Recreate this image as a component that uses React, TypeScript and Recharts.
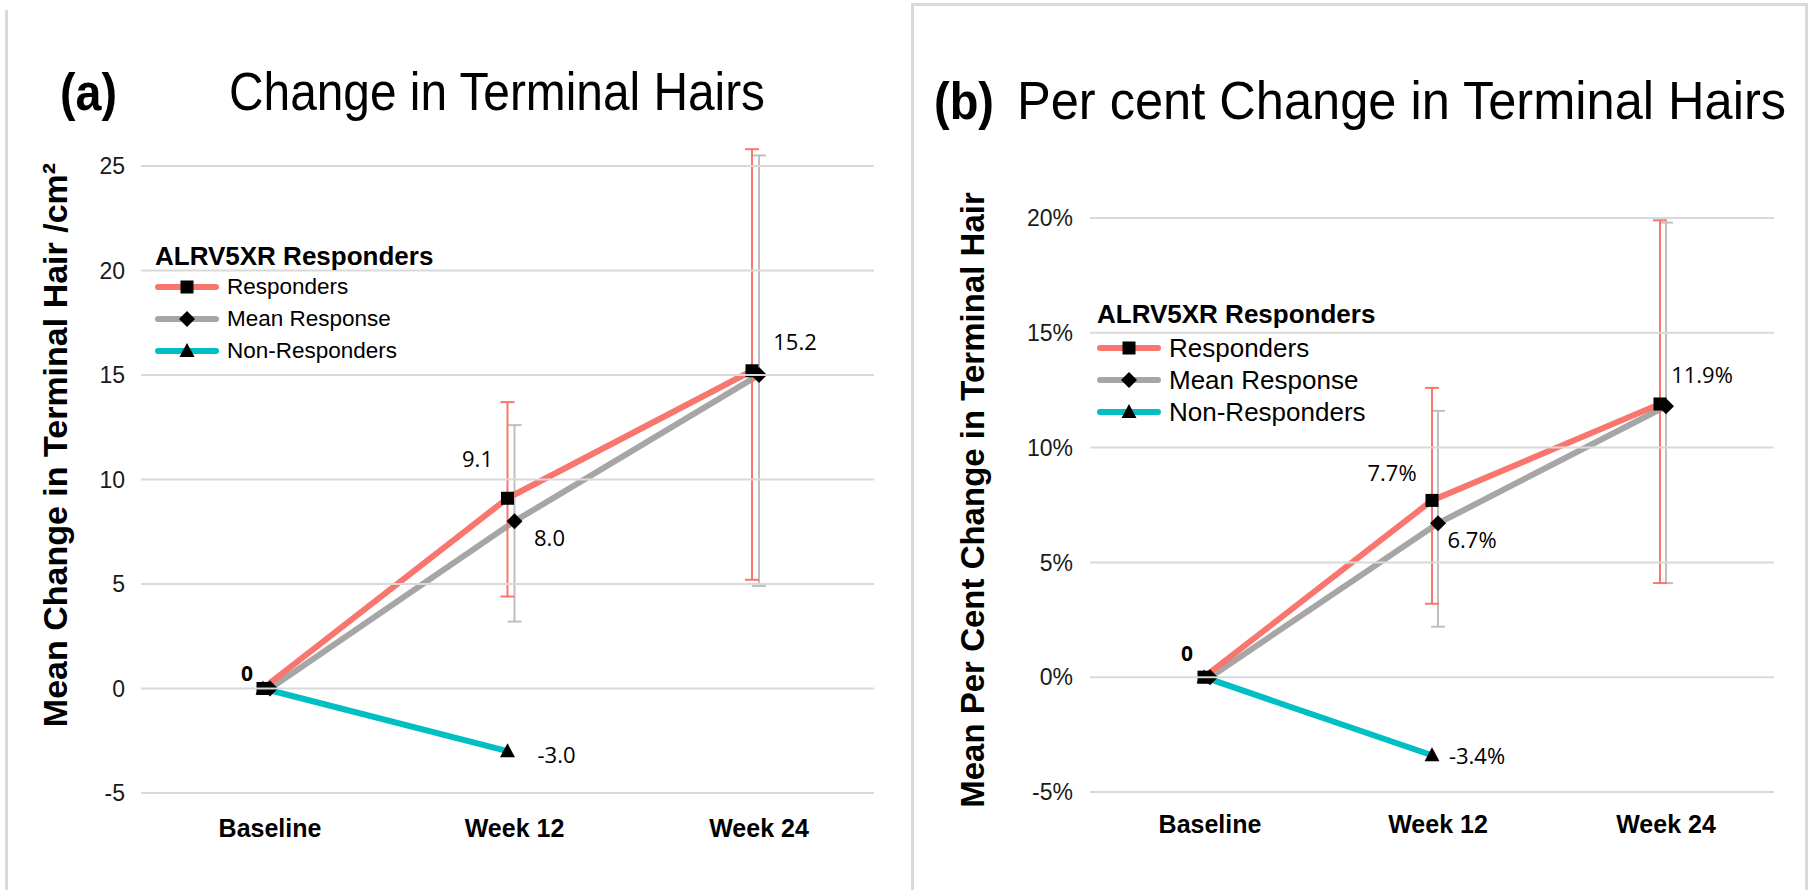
import React from 'react'
import { LineChart, Line, XAxis, YAxis, ErrorBar, LabelList, Legend } from 'recharts'

const categories = ['Baseline', 'Week 12', 'Week 24']

// (a) change in terminal hairs /cm²
const respondersA = [0, 9.1, 15.2]
const meanA = [0, 8.0, 15.0]
const nonRespondersA = [0, -3.0, null]
const respondersErrA = [null, [4.7, 4.6], [10.0, 10.6]]
const meanErrA = [null, [4.8, 4.6], [10.1, 10.5]]
const ticksA = [-5, 0, 5, 10, 15, 20, 25]

// (b) per cent change in terminal hairs
const respondersB = [0, 7.7, 11.9]
const meanB = [0, 6.7, 11.8]
const nonRespondersB = [0, -3.4, null]
const respondersErrB = [null, [4.5, 4.9], [7.8, 8.0]]
const meanErrB = [null, [4.5, 4.9], [7.7, 8.0]]
const ticksB = [-5, 0, 5, 10, 15, 20]

const RED = '#F8766D'
const GRAY = '#A6A6A6'
const TEAL = '#00BFC4'
const GRID = '#D9D9D9'
const FONT = "'Liberation Sans', Arial, sans-serif"
const LABEL_FONT = "'Open Sans', 'Noto Sans', sans-serif"

const buildData = (resp: number[], mean: number[], non: (number | null)[], respErr: any[], meanErr: any[]) =>
    categories.map((category, i) => ({
        category,
        responders: resp[i],
        mean: mean[i],
        non: non[i],
        respErr: respErr[i],
        meanErr: meanErr[i],
    }))

const dataA = buildData(respondersA, meanA, nonRespondersA, respondersErrA, meanErrA)
const dataB = buildData(respondersB, meanB, nonRespondersB, respondersErrB, meanErrB)

type Shape = 'square' | 'diamond' | 'triangle'

function Marker({ shape, cx, cy }: { shape: Shape; cx: number; cy: number }) {
    if (shape === 'square') return <rect x={cx - 6.5} y={cy - 6.5} width={13} height={13} fill="#000" />
    if (shape === 'diamond') return <polygon points={`${cx},${cy - 8} ${cx + 8},${cy} ${cx},${cy + 8} ${cx - 8},${cy}`} fill="#000" />
    return <polygon points={`${cx},${cy - 8} ${cx + 7.5},${cy + 6} ${cx - 7.5},${cy + 6}`} fill="#000" />
}

const makeDot = (shape: Shape) => (props: any) => {
    const { cx, cy, index, value } = props
    if (value == null || cx == null || cy == null || Number.isNaN(cy)) return <g key={`dot-${shape}-${index}`} />
    return <g key={`dot-${shape}-${index}`}><Marker shape={shape} cx={cx} cy={cy} /></g>
}

type LabelOffset = { dx: number; dy: number; bold?: boolean } | null

const makeLabel = (offsets: LabelOffset[], fmt: (v: number) => string) => (props: any) => {
    const { x, y, value, index } = props
    const off = offsets[index]
    if (!off || value == null) return null
    return (
        <text
            x={x + off.dx}
            y={y + off.dy}
            textAnchor="middle"
            dominantBaseline="central"
            fontFamily={LABEL_FONT}
            fontSize={off.bold ? 21 : 22}
            fontWeight={off.bold ? 'bold' : 'normal'}
            fill="#000"
        >
            {fmt(value)}
        </text>
    )
}

const fmtA = (v: number) => (v === 0 ? '0' : v.toFixed(1))
const fmtB = (v: number) => (v === 0 ? '0' : `${v.toFixed(1)}%`)

const legendItems: { name: string; color: string; shape: Shape }[] = [
    { name: 'Responders', color: RED, shape: 'square' },
    { name: 'Mean Response', color: GRAY, shape: 'diamond' },
    { name: 'Non-Responders', color: TEAL, shape: 'triangle' },
]

function LegendBox({ itemSize, gap }: { itemSize: number; gap: number }) {
    return (
        <div style={{ fontFamily: FONT, color: '#000', textAlign: 'left' }}>
            <div style={{ fontWeight: 'bold', fontSize: 26, lineHeight: '30px', whiteSpace: 'nowrap' }}>ALRV5XR Responders</div>
            <div style={{ height: gap }} />
            {legendItems.map(item => (
                <div key={item.name} style={{ display: 'flex', alignItems: 'center', height: 32 }}>
                    <svg width={64} height={20} style={{ display: 'block' }}>
                        <line x1={3} x2={61} y1={10} y2={10} stroke={item.color} strokeWidth={6} strokeLinecap="round" />
                        <Marker shape={item.shape} cx={32} cy={10} />
                    </svg>
                    <span style={{ fontSize: itemSize, marginLeft: 8, whiteSpace: 'nowrap' }}>{item.name}</span>
                </div>
            ))}
        </div>
    )
}

const makeXTick = (dy: number) => (props: any) => {
    const { x, y, payload } = props
    return (
        <text x={x} y={y + dy} textAnchor="middle" fontFamily={FONT} fontSize={25} fontWeight="bold" fill="#000">
            {payload.value}
        </text>
    )
}

// y tick: the label plus its grid row across the plot area (rows only at tick values)
const makeYTick = (plotLeft: number, plotRight: number, fmt: (v: number) => string) => (props: any) => {
    const { x, y, payload } = props
    return (
        <g>
            <line x1={plotLeft} x2={plotRight} y1={y} y2={y} stroke={GRID} strokeWidth={2} />
            <text x={x} y={y} dy="0.355em" textAnchor="end" fontFamily={FONT} fontSize={23} fill="#1a1a1a">
                {fmt(payload.value)}
            </text>
        </g>
    )
}

interface PanelProps {
    data: any[]
    width: number
    height: number
    margin: { top: number; right: number; bottom: number; left: number }
    yWidth: number
    domain: [number, number]
    ticks: number[]
    tickFmt: (v: number) => string
    tickMargin: number
    xTickDy: number
    edgePad: number
    shift: number
    legendPos: { left: number; top: number }
    legendItemSize: number
    legendGap: number
    respLabels: LabelOffset[]
    meanLabels: LabelOffset[]
    nonLabels: LabelOffset[]
    fmt: (v: number) => string
}

function Panel(p: PanelProps) {
    const plotLeft = p.margin.left + p.yWidth
    const plotRight = p.width - p.margin.right
    return (
        <LineChart width={p.width} height={p.height} data={p.data} margin={p.margin}>
            <YAxis
                domain={p.domain}
                ticks={p.ticks}
                width={p.yWidth}
                axisLine={false}
                tickLine={false}
                tickMargin={p.tickMargin}
                tick={makeYTick(plotLeft, plotRight, p.tickFmt)}
                interval={0}
            />
            <XAxis xAxisId="main" dataKey="category" hide padding={{ left: p.edgePad, right: p.edgePad }} />
            <XAxis
                xAxisId="shift"
                dataKey="category"
                padding={{ left: p.edgePad + p.shift, right: p.edgePad - p.shift }}
                axisLine={false}
                tickLine={false}
                tickMargin={0}
                height={60}
                tick={makeXTick(p.xTickDy)}
                interval={0}
            />
            <Legend
                layout="horizontal"
                verticalAlign="middle"
                align="center"
                content={() => <LegendBox itemSize={p.legendItemSize} gap={p.legendGap} />}
                wrapperStyle={{ left: p.legendPos.left, top: p.legendPos.top, width: 320, height: 130 }}
            />
            <Line
                xAxisId="shift"
                dataKey="mean"
                name="Mean Response"
                stroke={GRAY}
                strokeWidth={6}
                dot={makeDot('diamond')}
                activeDot={false}
                isAnimationActive={false}
            >
                <ErrorBar dataKey="meanErr" width={7} stroke="#BFBFBF" strokeWidth={2} direction="y" isAnimationActive={false} />
                <LabelList dataKey="mean" content={makeLabel(p.meanLabels, p.fmt)} />
            </Line>
            <Line
                xAxisId="main"
                dataKey="non"
                name="Non-Responders"
                stroke={TEAL}
                strokeWidth={6}
                dot={makeDot('triangle')}
                activeDot={false}
                isAnimationActive={false}
            >
                <LabelList dataKey="non" content={makeLabel(p.nonLabels, p.fmt)} />
            </Line>
            <Line
                xAxisId="main"
                dataKey="responders"
                name="Responders"
                stroke={RED}
                strokeWidth={6}
                dot={makeDot('square')}
                activeDot={false}
                isAnimationActive={false}
            >
                <ErrorBar dataKey="respErr" width={7} stroke={RED} strokeWidth={2} direction="y" isAnimationActive={false} />
                <LabelList dataKey="responders" content={makeLabel(p.respLabels, p.fmt)} />
            </Line>
        </LineChart>
    )
}

export default function App() {
    return (
        <div style={{ position: 'fixed', left: 0, top: 0, width: 1813, height: 890, background: '#fff', overflow: 'hidden' }}>
            {/* panel frames */}
            <div style={{ position: 'absolute', left: 5, top: 10, width: 3, height: 890, background: GRID }} />
            <div style={{ position: 'absolute', left: 911, top: 3, width: 897, height: 900, border: `3px solid ${GRID}`, boxSizing: 'border-box' }} />

            <div style={{ position: 'absolute', left: 0, top: 0 }}>
                <Panel
                    data={dataA}
                    width={900}
                    height={890}
                    margin={{ top: 145, right: 26, bottom: 37, left: 0 }}
                    yWidth={141}
                    domain={[-5, 26]}
                    ticks={ticksA}
                    tickFmt={(v) => `${v}`}
                    tickMargin={10}
                    xTickDy={8}
                    edgePad={122}
                    shift={7}
                    legendPos={{ left: 155, top: 241 }}
                    legendItemSize={22.5}
                    legendGap={-2}
                    respLabels={[{ dx: -16, dy: -15, bold: true }, { dx: -30, dy: -40 }, { dx: 43, dy: -30 }]}
                    meanLabels={[null, { dx: 35, dy: 16 }, null]}
                    nonLabels={[null, { dx: 49, dy: 3 }, null]}
                    fmt={fmtA}
                />
            </div>
            <div style={{ position: 'absolute', left: 905, top: 0 }}>
                <Panel
                    data={dataB}
                    width={900}
                    height={890}
                    margin={{ top: 218, right: 31, bottom: 38, left: 0 }}
                    yWidth={185}
                    domain={[-5, 20]}
                    ticks={ticksB}
                    tickFmt={(v) => `${v}%`}
                    tickMargin={11}
                    xTickDy={5}
                    edgePad={114}
                    shift={6}
                    legendPos={{ left: 192, top: 299 }}
                    legendItemSize={26}
                    legendGap={3}
                    respLabels={[{ dx: -17, dy: -24, bold: true }, { dx: -40, dy: -28 }, { dx: 42, dy: -30 }]}
                    meanLabels={[null, { dx: 34, dy: 16 }, null]}
                    nonLabels={[null, { dx: 45, dy: 0 }, null]}
                    fmt={fmtB}
                />
            </div>

            {/* titles and axis titles */}
            <svg width={1813} height={890} style={{ position: 'absolute', left: 0, top: 0, pointerEvents: 'none' }}>
                <g fontFamily={`'Liberation Sans Narrow', ${FONT}`} fill="#000">
                    <text x={60} y={110} fontSize={52} fontWeight="bold" textLength={57} lengthAdjust="spacingAndGlyphs">(a)</text>
                    <text x={229} y={110} fontSize={54} textLength={536} lengthAdjust="spacingAndGlyphs">Change in Terminal Hairs</text>
                    <text x={934} y={119} fontSize={52} fontWeight="bold" textLength={60} lengthAdjust="spacingAndGlyphs">(b)</text>
                    <text x={1017} y={119} fontSize={54} textLength={769} lengthAdjust="spacingAndGlyphs">Per cent Change in Terminal Hairs</text>
                </g>
                <g fontFamily={FONT} fontWeight="bold" fill="#000">
                    <text transform="translate(67, 445) rotate(-90)" textAnchor="middle" fontSize={34}>Mean Change in Terminal Hair /cm²</text>
                    <text transform="translate(984, 500) rotate(-90)" textAnchor="middle" fontSize={33}>Mean Per Cent Change in Terminal Hair</text>
                </g>
            </svg>
        </div>
    )
}
